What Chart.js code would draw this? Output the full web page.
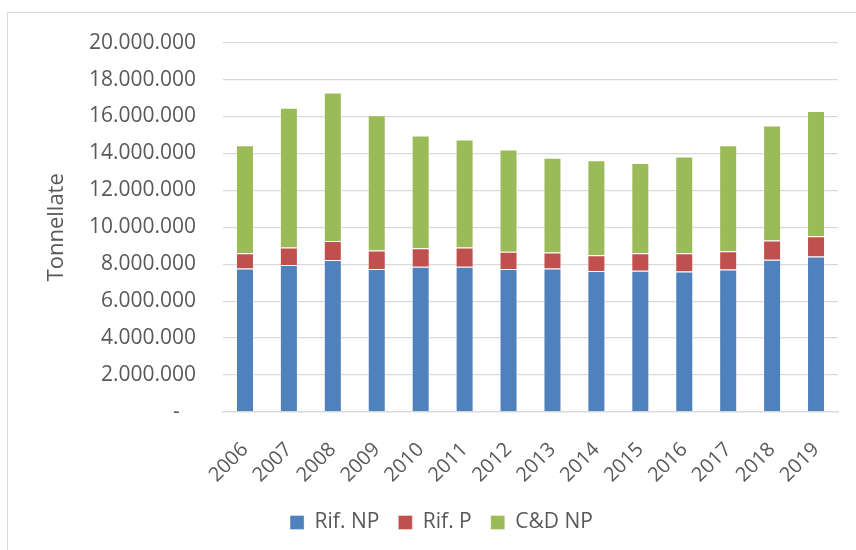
<!DOCTYPE html>
<html>
<head>
<meta charset="utf-8">
<script src="https://cdn.jsdelivr.net/npm/chart.js@4/dist/chart.umd.min.js"></script>
<style>
  html, body { margin: 0; padding: 0; background: #fff; overflow: hidden; width: 856px; height: 550px; }
  #frame { position: absolute; left: 7px; top: 12px; width: 900px; height: 600px;
           border-left: 1px solid #d9d9d9; border-top: 1px solid #d9d9d9; }
  #wrap { position: absolute; left: 7px; top: 3px; width: 868px; height: 547px; }
</style>
</head>
<body>
<div id="frame"></div>
<div id="wrap"><canvas id="c"></canvas></div>
<script>
const years = ['2006','2007','2008','2009','2010','2011','2012','2013','2014','2015','2016','2017','2018','2019'];
const rifNP = [7770000, 7960000, 8230000, 7740000, 7860000, 7860000, 7740000, 7770000, 7630000, 7650000, 7610000, 7720000, 8240000, 8420000];
const rifP  = [820000, 950000, 1030000, 1010000, 1000000, 1050000, 940000, 870000, 850000, 940000, 980000, 980000, 1050000, 1090000];
const cdNP  = [5850000, 7560000, 8040000, 7320000, 6110000, 5840000, 5530000, 5130000, 5150000, 4890000, 5250000, 5740000, 6220000, 6790000];
const seriesNames = ['Rif. NP', 'Rif. P', 'C&D NP'];
const yMax = 20000000;
const yStep = 2000000;

function fmt(v) {
  if (v === 0) return '-   ';
  return String(Math.round(v)).replace(/\B(?=(\d{3})+(?!\d))/g, '.');
}

const FONT = { family: '"Open Sans", "Liberation Sans", sans-serif', size: 21 };
const XFONT = { family: '"Open Sans", "Liberation Sans", sans-serif', size: 20 };
const TFONT = { family: '"Open Sans", "Liberation Sans", sans-serif', size: 22 };
const TXT = '#595959';
const GRID = '#d9d9d9';

const shiftLegend = {
  id: 'shiftLegend',
  afterLayout(chart) {
    const lg = chart.legend;
    if (lg) { lg.left += 19; lg.right += 19; }
  }
};

new Chart(document.getElementById('c'), {
  type: 'bar',
  data: {
    labels: years,
    datasets: [
      { label: seriesNames[0], data: rifNP, backgroundColor: '#4F81BD', borderColor: 'rgba(255,255,255,0.35)', borderWidth: 1 },
      { label: seriesNames[1], data: rifP,  backgroundColor: '#C0504D', borderColor: 'rgba(255,255,255,0.35)', borderWidth: 1 },
      { label: seriesNames[2], data: cdNP,  backgroundColor: '#9BBB59', borderColor: 'rgba(255,255,255,0.35)', borderWidth: 1 }
    ]
  },
  plugins: [shiftLegend],
  options: {
    responsive: true,
    maintainAspectRatio: false,
    animation: false,
    layout: { padding: { left: 0, right: 37, top: 21, bottom: 7 } },
    datasets: { bar: { categoryPercentage: 1.0, barPercentage: 0.41 } },
    plugins: {
      tooltip: { enabled: false },
      legend: {
        position: 'bottom',
        labels: {
          boxWidth: 14, boxHeight: 14, padding: 19,
          color: TXT, font: FONT
        }
      }
    },
    scales: {
      x: {
        stacked: true,
        grid: { display: false, drawTicks: false },
        border: { display: true, color: GRID, width: 1.3 },
        ticks: { color: TXT, font: XFONT, autoSkip: false, maxRotation: 45, minRotation: 45, padding: 26 },
        afterFit: (s) => { s.height = 81; }
      },
      y: {
        stacked: true,
        min: 0, max: yMax,
        grid: { color: GRID, lineWidth: 1.3, drawTicks: false },
        border: { display: false },
        ticks: { stepSize: yStep, color: TXT, font: FONT, padding: 27, callback: (v) => fmt(v) },
        title: { display: true, text: 'Tonnellate', color: TXT, font: TFONT, padding: { top: 37, bottom: 0 } },
        afterFit: (s) => { s.width = 216; }
      }
    }
  }
});
</script>
</body>
</html>
